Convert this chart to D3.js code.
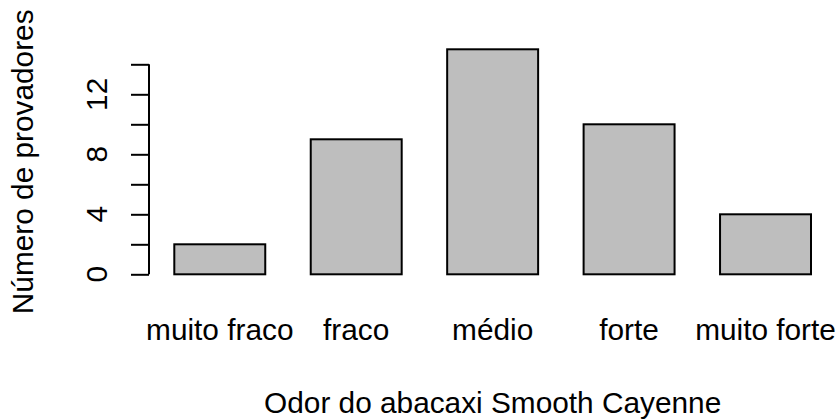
<!DOCTYPE html>
<html>
<head>
<meta charset="utf-8">
<script src="https://cdn.jsdelivr.net/npm/d3@7"></script>
<style>
  body { margin: 0; background: #fff; }
  text { font-family: "Liberation Sans", Arial, sans-serif; fill: #000; }
</style>
</head>
<body>
<main></main>
<script>
const categories = ["muito fraco", "fraco", "médio", "forte", "muito forte"];
const counts = [2, 9, 15, 10, 4];
const tickValues = [0, 2, 4, 6, 8, 10, 12, 14];
const tickLabels = [0, 4, 8, 12];
const xTitle = "Odor do abacaxi Smooth Cayenne";
const yTitle = "Número de provadores";

const width = 839, height = 419;
const fontSize = 29.8;

const svg = d3.select("main")
    .append("svg")
    .attr("width", width)
    .attr("height", height)
    .attr("viewBox", [0, 0, width, height]);

const x = d3.scaleBand()
    .domain(categories)
    .range([174.3, 811])
    .paddingInner(1 / 3)
    .paddingOuter(0);

const y = d3.scaleLinear()
    .domain([0, 15])
    .range([274.3, 49.3]);

// bars
svg.selectAll("rect.bar")
    .data(counts)
    .enter()
    .append("rect")
    .attr("class", "bar")
    .attr("x", (d, i) => x(categories[i]))
    .attr("y", d => y(d))
    .attr("width", x.bandwidth())
    .attr("height", d => y(0) - y(d))
    .attr("fill", "#bebebe")
    .attr("stroke", "#000")
    .attr("stroke-width", 2);

// y axis, R style
const axisX = 149;
let yAxis = svg.append("g").attr("transform", `translate(${axisX},0)`);
yAxis.call(d3.axisLeft(y)
    .tickValues(tickValues)
    .tickSize(18)
    .tickSizeOuter(0)
    .tickFormat(""));
yAxis.select(".domain")
    .attr("d", `M0,${y(d3.min(tickValues))}V${y(d3.max(tickValues))}`)
    .attr("stroke-width", 2);
yAxis.selectAll(".tick line").attr("stroke-width", 2);

svg.selectAll("text.ylab")
    .data(tickLabels)
    .enter()
    .append("text")
    .attr("class", "ylab")
    .attr("transform", d => `translate(107,${y(d)}) rotate(-90)`)
    .attr("text-anchor", "middle")
    .style("font-size", fontSize + "px")
    .text(d => d);

// category labels
svg.selectAll("text.xlab")
    .data(categories)
    .enter()
    .append("text")
    .attr("class", "xlab")
    .attr("x", d => x(d) + x.bandwidth() / 2)
    .attr("y", 340)
    .attr("text-anchor", "middle")
    .style("font-size", fontSize + "px")
    .text(d => d);

// axis titles
const plotMidX = (x.range()[0] + x.range()[1]) / 2;
svg.append("text")
    .attr("x", plotMidX)
    .attr("y", 412.7)
    .attr("text-anchor", "middle")
    .style("font-size", fontSize + "px")
    .text(xTitle);

svg.append("text")
    .attr("transform", `translate(33,${(y(-0.6) + y(15.6)) / 2}) rotate(-90)`)
    .attr("text-anchor", "middle")
    .style("font-size", fontSize + "px")
    .text(yTitle);
</script>
</body>
</html>
